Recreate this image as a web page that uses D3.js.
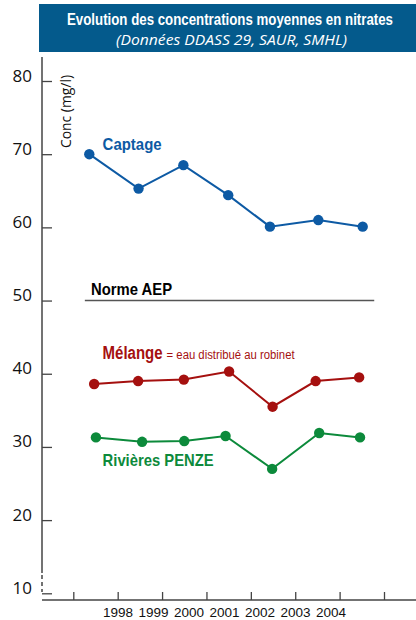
<!DOCTYPE html>
<html>
<head>
<meta charset="utf-8">
<script src="https://cdn.jsdelivr.net/npm/d3@7"></script>
<style>
  body { margin: 0; background: #fff; }
  svg { display: block; }
  .narrow { font-family: "Liberation Sans Narrow", "Arial Narrow", "Liberation Sans", sans-serif; font-stretch: condensed; }
</style>
</head>
<body>
<svg id="chart"></svg>
<script>
// values
let years = [1998, 1999, 2000, 2001, 2002, 2003, 2004]
let tickYears = [1997, 1998, 1999, 2000, 2001, 2002, 2003, 2004]
let yTicks = [10, 20, 30, 40, 50, 60, 70, 80]

let captageX = [1997.36, 1998.47, 1999.48, 2000.49, 2001.43, 2002.52, 2003.52]
let captage = [70.0, 65.3, 68.5, 64.4, 60.1, 61.0, 60.1]

let melangeX = [1997.47, 1998.46, 1999.49, 2000.51, 2001.49, 2002.46, 2003.44]
let melange = [38.6, 39.0, 39.2, 40.3, 35.5, 39.0, 39.5]

let riviereX = [1997.51, 1998.55, 1999.50, 2000.43, 2001.48, 2002.54, 2003.46]
let riviere = [31.3, 30.7, 30.8, 31.5, 27.0, 31.9, 31.3]

let norme = 50

let width = 416
let height = 620
let axisX = 42
let axisY = 600

let svg = d3.select("#chart").attr("width", width).attr("height", height)

let x = d3.scaleLinear().domain([1997, 2004]).range([73.3, 384])
let y = d3.scaleLinear().domain([10, 80]).range([593.3, 81])
// the year labels are squeezed under the ticks, not on them
let xLabel = d3.scalePoint().domain(years).range([118, 331])

// header
svg.append("rect")
    .attr("x", 39).attr("y", 4)
    .attr("width", 377).attr("height", 48)
    .attr("fill", "#045a8c")

// title is squeezed horizontally to the width of the original
let title = svg.append("text")
    .attr("class", "narrow")
    .attr("text-anchor", "middle")
    .attr("font-size", 17).attr("font-weight", "bold")
    .attr("fill", "#fff")
    .text("Evolution des concentrations moyennes en nitrates")
let titleW = title.node().getComputedTextLength()
title.attr("transform", `translate(230,25) scale(${Math.min(1, 326 / titleW)},1)`)

svg.append("text")
    .attr("x", 231.5).attr("y", 45)
    .attr("text-anchor", "middle")
    .attr("font-family", "'Open Sans', sans-serif")
    .attr("font-size", 14.5).attr("font-style", "italic")
    .attr("fill", "#fff")
    .attr("textLength", 231).attr("lengthAdjust", "spacingAndGlyphs")
    .text("(Données DDASS 29, SAUR, SMHL)")

// y axis
let yAxis = d3.axisLeft(y)
    .tickValues(yTicks)
    .tickSize(-10)
    .tickPadding(10)
    .tickSizeOuter(0)

let gy = svg.append("g")
    .attr("transform", `translate(${axisX},0)`)
    .call(yAxis)
gy.select(".domain").remove()
gy.selectAll(".tick line").attr("stroke", "#444").attr("stroke-width", 1.3)
gy.selectAll(".tick text")
    .attr("dy", "0")
    .attr("font-family", "'Open Sans', sans-serif")
    .attr("font-size", 17)
    .attr("fill", "#111")

// axis line, solid then broken near the bottom
gy.append("line")
    .attr("x1", 0).attr("x2", 0)
    .attr("y1", 57).attr("y2", 573)
    .attr("stroke", "#444").attr("stroke-width", 1.5)
gy.append("line")
    .attr("x1", 0).attr("x2", 0)
    .attr("y1", 575).attr("y2", 592)
    .attr("stroke", "#444").attr("stroke-width", 1.5)
    .attr("stroke-dasharray", "4,3")

svg.append("text")
    .attr("transform", "translate(71,148) rotate(-90)")
    .attr("font-family", "'Open Sans', sans-serif")
    .attr("font-size", 14)
    .attr("fill", "#111")
    .attr("textLength", 73).attr("lengthAdjust", "spacingAndGlyphs")
    .text("Conc (mg/l)")

// x axis: ticks pointing up, no labels on them
let xAxis = d3.axisBottom(x)
    .tickValues(tickYears)
    .tickSize(-8)
    .tickSizeOuter(0)
    .tickFormat("")

let gx = svg.append("g")
    .attr("transform", `translate(0,${axisY})`)
    .call(xAxis)
gx.select(".domain").remove()
gx.selectAll(".tick line").attr("stroke", "#444").attr("stroke-width", 1.3)
gx.append("line")
    .attr("x1", axisX).attr("x2", width)
    .attr("stroke", "#444").attr("stroke-width", 1.5)

svg.append("g").selectAll("text")
    .data(years)
    .join("text")
    .attr("class", "narrow")
    .attr("x", d => xLabel(d))
    .attr("y", 617)
    .attr("text-anchor", "middle")
    .attr("font-size", 13.5)
    .attr("fill", "#111")
    .text(d => d)

// norme AEP
svg.append("line")
    .attr("x1", x(1997.26)).attr("x2", x(2003.78))
    .attr("y1", y(norme)).attr("y2", y(norme))
    .attr("stroke", "#555").attr("stroke-width", 1.6)

svg.append("text")
    .attr("class", "narrow")
    .attr("x", x(1997.4)).attr("y", y(norme + 0.8))
    .attr("font-size", 17).attr("font-weight", "bold")
    .attr("fill", "#000")
    .attr("textLength", 81).attr("lengthAdjust", "spacingAndGlyphs")
    .text("Norme AEP")

// series
let series = [
    { name: "Captage", xs: captageX, vals: captage, color: "#0d5aa4" },
    { name: "Mélange", xs: melangeX, vals: melange, color: "#a5100f" },
    { name: "Rivières PENZE", xs: riviereX, vals: riviere, color: "#0c8a3b" }
]

let line = d3.line()
    .x(d => x(d[0]))
    .y(d => y(d[1]))

series.forEach(s => {
    let pts = s.xs.map((v, i) => [v, s.vals[i]])
    svg.append("path")
        .datum(pts)
        .attr("d", line)
        .attr("fill", "none")
        .attr("stroke", s.color)
        .attr("stroke-width", 2)
    svg.append("g").selectAll("circle")
        .data(pts)
        .join("circle")
        .attr("cx", d => x(d[0]))
        .attr("cy", d => y(d[1]))
        .attr("r", 5.2)
        .attr("fill", s.color)
})

// series labels
let labelX = x(1997.66)

svg.append("text")
    .attr("class", "narrow")
    .attr("x", labelX).attr("y", y(70.6))
    .attr("font-size", 17).attr("font-weight", "bold")
    .attr("fill", series[0].color)
    .attr("textLength", 59).attr("lengthAdjust", "spacingAndGlyphs")
    .text("Captage")

svg.append("text")
    .attr("class", "narrow")
    .attr("x", labelX).attr("y", y(41.95))
    .attr("font-size", 18).attr("font-weight", "bold")
    .attr("fill", series[1].color)
    .attr("textLength", 60).attr("lengthAdjust", "spacingAndGlyphs")
    .text("Mélange")

svg.append("text")
    .attr("class", "narrow")
    .attr("x", labelX + 64).attr("y", y(41.95))
    .attr("font-size", 12.5)
    .attr("fill", series[1].color)
    .attr("textLength", 128).attr("lengthAdjust", "spacingAndGlyphs")
    .text("= eau distribué au robinet")

svg.append("text")
    .attr("class", "narrow")
    .attr("x", labelX).attr("y", y(27.4))
    .attr("font-size", 17).attr("font-weight", "bold")
    .attr("fill", series[2].color)
    .attr("textLength", 111).attr("lengthAdjust", "spacingAndGlyphs")
    .text("Rivières PENZE")
</script>
</body>
</html>
